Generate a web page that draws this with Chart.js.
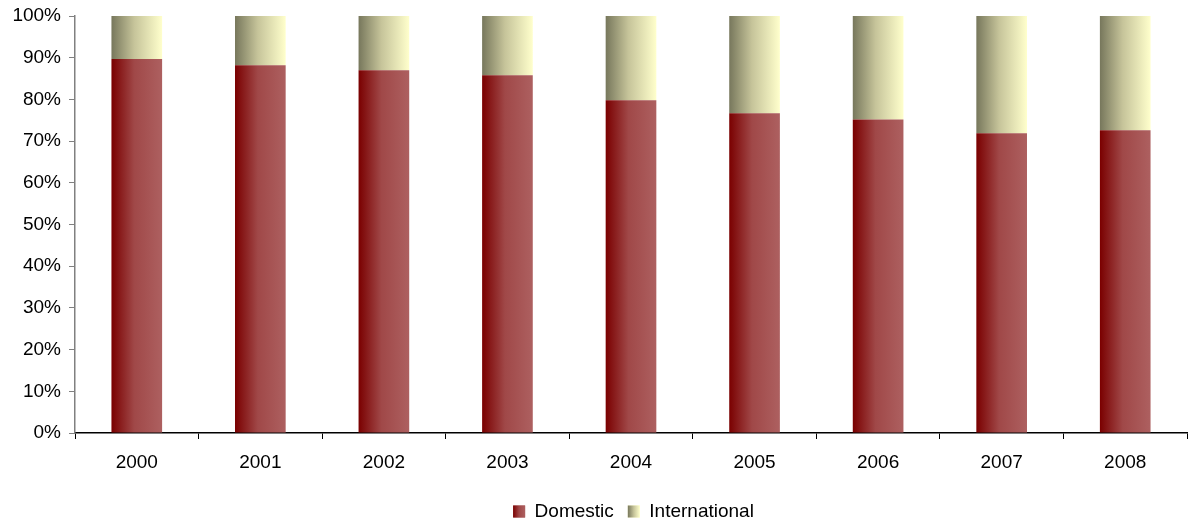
<!DOCTYPE html>
<html>
<head>
<meta charset="utf-8">
<script src="https://cdn.jsdelivr.net/npm/chart.js@4/dist/chart.umd.min.js"></script>
<style>
  html, body { margin: 0; padding: 0; background: #fff; }
  #wrap { width: 1191px; height: 519px; }
</style>
</head>
<body>
<div id="wrap"><canvas id="chart"></canvas></div>
<script>
const years = ["2000", "2001", "2002", "2003", "2004", "2005", "2006", "2007", "2008"];
const domestic = [89.7, 88.2, 87.0, 85.8, 79.8, 76.7, 75.2, 71.9, 72.6];
const international = [10.3, 11.8, 13.0, 14.2, 20.2, 23.3, 24.8, 28.1, 27.4];
const yTicks = [0, 10, 20, 30, 40, 50, 60, 70, 80, 90, 100];

const catPct = 0.41;

// horizontal gradient across each bar
function barGradient(stops) {
  return (ctx) => {
    const chart = ctx.chart;
    if (!chart.chartArea || ctx.dataIndex === undefined) return stops[1];
    const xs = chart.scales.x;
    const cx = xs.getPixelForValue(ctx.dataIndex);
    const w = (xs.width / years.length) * catPct;
    const g = chart.ctx.createLinearGradient(cx - w / 2, 0, cx + w / 2, 0);
    g.addColorStop(0, stops[0]);
    g.addColorStop(0.45, stops[1]);
    g.addColorStop(1, stops[2]);
    return g;
  };
}

const domStops = ["#7a0000", "#a04848", "#ad6060"];
const intStops = ["#77775c", "#c6c49a", "#ffffcc"];

const legendShift = 38;

// legend sits a bit right of centre in the original; boxes get the gradients too
const legendGrad = {
  id: "legendGrad",
  afterUpdate(chart) {
    const lg = chart.legend;
    if (!lg) return;
    lg.left += legendShift;
    lg.right += legendShift;
    (lg.legendHitBoxes || []).forEach((b) => { b.left += legendShift; });
  },
  afterDraw(chart) {
    const lg = chart.legend;
    if (!lg || !lg.legendHitBoxes) return;
    const c = chart.ctx;
    const sets = [domStops, intStops];
    lg.legendHitBoxes.forEach((b, i) => {
      const size = 12;
      const top = b.top + (b.height - size) / 2;
      const g = c.createLinearGradient(b.left, 0, b.left + size, 0);
      g.addColorStop(0, sets[i][0]);
      g.addColorStop(0.5, sets[i][1]);
      g.addColorStop(1, sets[i][2]);
      c.fillStyle = g;
      c.fillRect(b.left, top, size, size);
    });
  }
};

Chart.defaults.font.family = "'Liberation Sans', Arial, sans-serif";
Chart.defaults.color = "#000";

new Chart(document.getElementById("chart"), {
  type: "bar",
  data: {
    labels: years,
    datasets: [
      {
        label: "Domestic",
        data: domestic,
        backgroundColor: barGradient(domStops),
        borderWidth: 0,
        barPercentage: 1,
        categoryPercentage: catPct,
      },
      {
        label: "International",
        data: international,
        backgroundColor: barGradient(intStops),
        borderWidth: 0,
        barPercentage: 1,
        categoryPercentage: catPct,
      },
    ],
  },
  options: {
    responsive: true,
    maintainAspectRatio: false,
    animation: false,
    layout: { padding: { top: 16, right: 4, left: 4, bottom: -12 } },
    scales: {
      x: {
        stacked: true,
        afterFit: (s) => { s.height = 55; },
        grid: {
          offset: true,
          drawOnChartArea: false,
          tickLength: 6,
          color: "#000",
        },
        border: { color: "#000", width: 1.5 },
        ticks: { font: { size: 19 }, padding: 12 },
      },
      y: {
        stacked: true,
        min: 0,
        max: 100,
        afterFit: (s) => { s.width = 71; s.paddingTop = 0; },
        afterBuildTicks: (axis) => {
          axis.ticks = yTicks.map((v) => ({ value: v }));
        },
        grid: {
          drawOnChartArea: false,
          tickLength: 6,
          color: "#808080",
        },
        border: { color: "#808080", width: 1.5 },
        ticks: {
          font: { size: 19 },
          padding: 8,
          callback: (v) => v + "%",
        },
      },
    },
    plugins: {
      legend: {
        position: "bottom",
        labels: {
          boxWidth: 12,
          boxHeight: 12,
          padding: 14,
          font: { size: 19 },
          color: "#000",
        },
      },
      tooltip: { enabled: false },
    },
  },
  plugins: [legendGrad],
});
</script>
</body>
</html>
